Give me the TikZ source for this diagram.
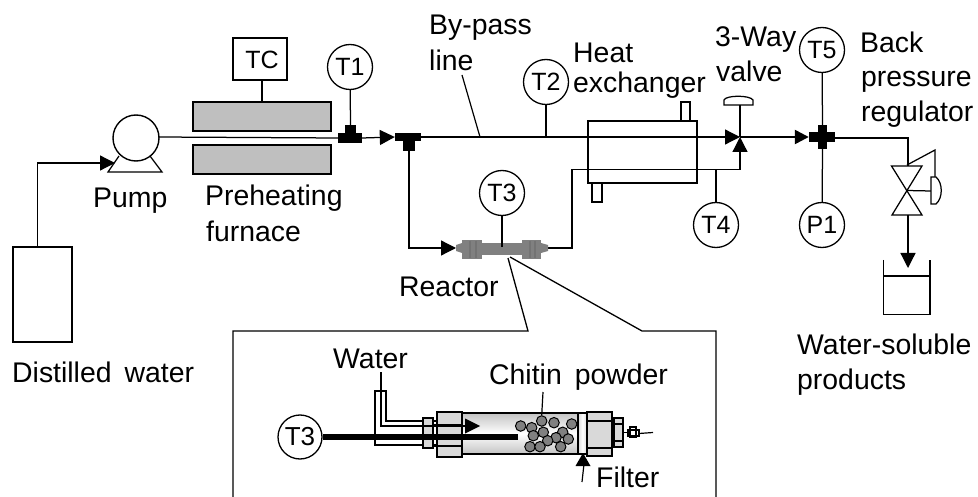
\documentclass[tikz,border=0pt]{standalone}
\usepackage{fontspec}
\setmainfont{Liberation Sans}
\usetikzlibrary{arrows.meta,calc}
\definecolor{furn}{HTML}{BFBFBF}
\definecolor{nutg}{HTML}{D9D9D9}
\definecolor{ball}{HTML}{808080}
\tikzset{
  pipe/.style={line width=1.25pt,black},
  thin line/.style={line width=1.2pt,black},
  flow/.style={pipe,-{Triangle[length=15pt,width=15pt]}},
  gauge/.style={circle,draw,line width=1.3pt,fill=white,minimum size=45pt,inner sep=0pt,font=\fontsize{25}{27}\selectfont},
  box/.style={rectangle,draw,line width=1.4pt,fill=white,inner sep=0pt},
  furnace/.style={box,fill=furn,minimum width=138pt,minimum height=29pt,line width=2pt},
  tee/.style={rectangle,fill=black,inner sep=0pt},
  lab/.style={anchor=base west,inner sep=0pt,font=\fontsize{28.4}{30}\selectfont},
  part/.style={draw,line width=1.3pt,fill=nutg},
  grain/.style={circle,draw,line width=1pt,fill=ball,minimum size=10.5pt,inner sep=0pt},
}
\begin{document}
\begin{tikzpicture}[x=1pt,y=-1pt]
\useasboundingbox (0,0) rectangle (978,497);

% ---- equipment nodes
\node[box,minimum width=59pt,minimum height=95pt] (tank) at (42.5,294.5) {};
\node[box,minimum width=54pt,minimum height=42pt] (TC) at (260,59) {};
\node[font=\fontsize{25}{27}\selectfont,inner sep=0pt] at (262,60) {TC};
\node[furnace] (f1) at (262,116.5) {};
\node[furnace] (f2) at (262,159.5) {};
\node[box,minimum width=9pt,minimum height=19pt] (hxt) at (685.5,111.5) {};
\node[box,minimum width=10pt,minimum height=19pt] (hxb) at (597,192.5) {};
\node[box,fill=none,minimum width=109pt,minimum height=62pt] (hx) at (642.5,152) {};

\coordinate (tankout) at (37.5,247);
\coordinate (pumpin) at (115,163);
\coordinate (pumpout) at (159,137);

% tees
\node[tee,minimum width=24pt,minimum height=10pt] (t1h) at (350,138) {};
\node[tee,minimum width=11pt,minimum height=9pt] (t1v) at (350.5,129.5) {};
\node[tee,minimum width=26pt,minimum height=8pt] (t2h) at (408,137) {};
\node[tee,minimum width=12pt,minimum height=10pt] (t2v) at (409,146) {};
\node[tee,minimum width=26pt,minimum height=10pt] (xh) at (822,137) {};
\node[tee,minimum width=9pt,minimum height=24pt] (xv) at (822.5,137) {};

% gauges
\node[gauge] (T1) at (350,67) {T1};
\node[gauge] (T2) at (546,82) {T2};
\node[gauge] (T3) at (502,193) {T3};
\node[gauge] (T4) at (716,225) {T4};
\node[gauge] (T5) at (822,50) {T5};
\node[gauge] (P1) at (822,225) {P1};

% ---- pump
\draw[pipe,fill=white] (119,156) -- (108,172) -- (162,172) -- (150,156);
\node[circle,draw,line width=1.4pt,fill=white,minimum size=46pt,inner sep=0pt] (pump) at (136,138) {};

% ---- pipes
\draw[flow] (tankout) -- (37.5,163) -- (pumpin);
\draw[pipe] (pumpout) -- (t1h.west);
\draw[pipe] (262,80) -- (f1.north);
\draw[pipe] (T1) -- (t1v.north);
\draw[flow] (t1h.east) -- (t2h.west);
\coordinate (valve) at (740,137);
\draw[flow] (t2h.east) -- (valve);
\draw[pipe] (T2) -- (T2 |- valve);
\coordinate (rin) at (456,248);
\coordinate (rout) at (548,248);
\draw[flow] (t2v.south) -- (t2v |- rin) -- (rin);
\coordinate (t4j) at (717,169.5);
\draw[flow] (rout) -- (572,248) -- (572,169.5) -- (740,169.5) -- (740,137);
\draw[pipe] (T4) -- (T4 |- t4j);
\draw[line width=2.4pt,-{Triangle[length=14pt,width=14pt]}] (valve) -- (xh.west);
\draw[pipe] (T5) -- (xv.north);
\draw[pipe] (P1) -- (xv.south);
\draw[pipe] (valve) -- (740,105);
\draw[pipe,fill=white] (724,105) -- (724,100) .. controls (726,95) and (750,95) .. (753,100) -- (753,105) -- cycle;

% ---- back pressure regulator
\coordinate (bprc) at (907,190.5);
\draw[pipe] (xh.east |- 0,138) -- (908,138) -- (908,166);
\draw[pipe] (891.5,166) -- (922,166) -- (892,215) -- (922,215) -- cycle;
\draw[pipe] (907,165) -- (935,150) -- (935,177);
\draw[pipe] (bprc) -- (931,191);
\draw[pipe,fill=white] (931,177) -- (936,177) .. controls (943,183) and (943,198) .. (936,204) -- (931,204) -- cycle;
\draw[flow] (908,215) -- (908,268);
\draw[pipe] (883.5,260) -- (883.5,314.5) -- (930,314.5) -- (930,260);
\draw[pipe] (883.5,276) -- (930,276);

% ---- small reactor
\fill[ball] (456,245) -- (462,243) -- (462,253) -- (456,251) -- cycle;
\fill[ball] (462,240) rectangle (482,259);
\shade[left color=ball,middle color=black!80,right color=ball] (480,244) rectangle (522,255);
\fill[ball] (522,240) rectangle (541,259);
\fill[ball] (541,243) -- (548,245) -- (548,251) -- (541,253) -- cycle;
\foreach \xx in {470,476,530,535}{\draw[black!55,line width=1.2pt] (\xx,241) -- (\xx,258);}
\draw[pipe] (T3) -- (502,247);

% ---- inset outline
\coordinate (zoomA) at (508,258);
\coordinate (zoomB) at (510,257);
\draw[line width=1.3pt] (233,497) -- (233,331) -- (528,331) -- (zoomA);
\draw[line width=1.3pt] (zoomB) -- (642,331) -- (716,331) -- (716,497);

% ---- inset: reactor
\shade[top color=nutg!90!black,bottom color=nutg!90!black,middle color=white] (462,413) rectangle (578,454);
\draw[line width=1.3pt] (462,413) -- (578,413) (462,454) -- (578,454);
\draw[thin line,fill=white] (386,391) -- (375,391) -- (375,445) -- (423,445) -- (423,421) -- (386,421) -- cycle;
\draw[thin line] (423,421) -- (462,421) (423,445) -- (437,445);
\draw[part] (423,418) rectangle (433,448);
\draw[part] (437,412) rectangle (462,457);
\draw[thin line] (433,425) -- (462,425) (433,446) -- (462,446);
\draw[thin line] (381,372) -- (381,426) -- (466,426);
\fill (465,418.5) -- (480,426) -- (465,433.5) -- cycle;
\node[gauge,minimum size=44pt,font=\fontsize{26}{28}\selectfont] (T3b) at (300,437) {T3};
\coordinate (probe) at (518,437);
\draw[line width=6pt] (T3b) -- (probe);
% filter
\shade[left color=nutg,right color=nutg,middle color=white] (578,413) rectangle (587,454);
\draw[line width=1.3pt] (578,413) rectangle (587,454);
\draw[part] (587,412) rectangle (612,456);
\draw[thin line] (587,421) -- (612,421) (587,448) -- (612,448);
\draw[part] (614,418) rectangle (623,447);
\draw[thin line] (614,424) -- (623,424) (614,441) -- (623,441);
\draw[thin line] (623,432.5) -- (628,432.5);
\draw[thin line,fill=white] (628,430) rectangle (639,436);
\draw[thin line] (630,427) rectangle (636,437);
\draw[thin line] (639,433.5) -- (653,432.5);

% grains
\foreach \n/\gx/\gy in {a/520.7/426,b/531.7/427.7,c/541.7/421,d/554/422.7,e/571.7/424,f/533.3/435.7,g/543.3/432.3,h/562.7/432.3,i/556/437.7,j/568.3/439,k/547.7/440.7,l/530/446.7,m/540/446.7,n/560.7/446.7}
  {\node[grain] (g\n) at (\gx,\gy) {};}
\draw[thin line] (543,392) -- (gc.north);

% filter arrow
\coordinate (filtertip) at (583,453);
\draw[thin line] (582,482) -- (584,464);
\fill (filtertip) -- (590.5,466) -- (575.5,466) -- cycle;

% ---- labels
\node[lab] (l1) at (93,208) {Pump};
\node[lab] (l2) at (205,206) {Preheating};
\node[lab] (l3) at (206,242) {furnace};
\node[lab] (l4) at (429,35) {By-pass};
\node[lab] (l5) at (429,71) {line};
\draw[thin line] (462,75) -- (480,137);
\node[lab] (l6) at (573,63) {Heat};
\node[lab] (l7) at (573,93) {exchanger};
\node[lab] (l8) at (715,47) {3-Way};
\node[lab] (l9) at (716,82) {valve};
\node[lab] (l10) at (860,53) {Back};
\node[lab] (l11) at (861,87) {pressure};
\node[lab] (l12) at (861,122) {regulator};
\node[lab] (l13) at (399,297) {Reactor};
\node[lab] (l14) at (12,382) {Distilled\hspace{13pt}water};
\node[lab] (l15) at (797,354) {Water-soluble};
\node[lab] (l16) at (797,389) {products};
\node[lab] (l17) at (333,368) {Water};
\node[lab] (l18) at (489,384) {Chitin\hspace{13pt}powder};
\node[lab] (l19) at (596,487) {Filter};
\end{tikzpicture}
\end{document}
